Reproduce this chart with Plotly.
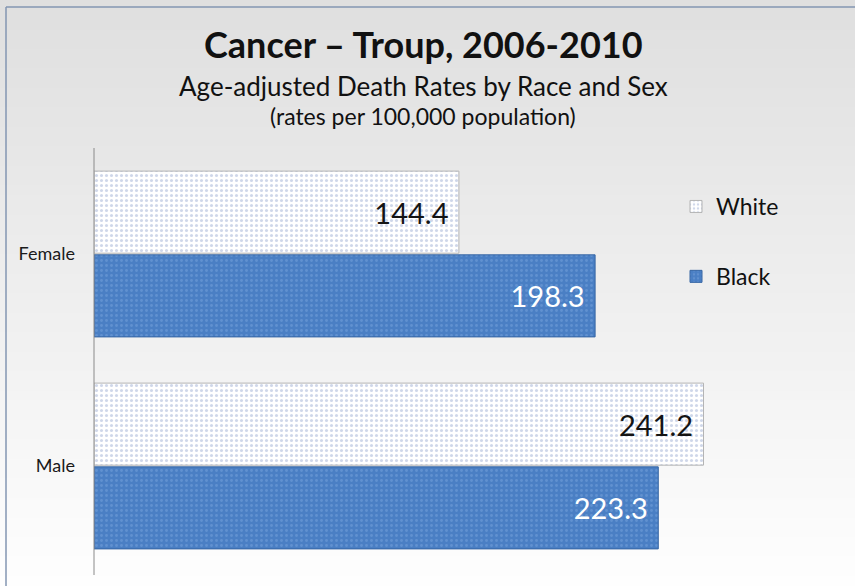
import plotly.graph_objects as go

categories = ["Female", "Male"]
white_values = [144.4, 241.2]
black_values = [198.3, 223.3]
series_names = ["White", "Black"]

W, H = 855, 586
L, R, T, B = 94, 850, 148, 572  # plot area in pixels
XMAX = (R - L) / 2.527

def px(xp):
    return (xp - L) / (R - L)

def py(yp):
    return (B - yp) / (B - T)

fig = go.Figure()

fig.add_trace(go.Bar(
    y=categories, x=white_values, name=series_names[0], orientation="h",
    legendgroup="w",
    marker=dict(color="#ffffff", line=dict(color="#b4b4b4", width=1),
                pattern=dict(shape=".", fgcolor="#9fb0d4", bgcolor="#ffffff", size=5, solidity=0.3)),
    texttemplate="%{x:.1f}\u00a0", textposition="inside", insidetextanchor="end",
    textangle=0, textfont=dict(family="Lato", size=29, color="#141414"),
    hoverinfo="skip",
))
fig.add_trace(go.Bar(
    y=categories, x=black_values, name=series_names[1], orientation="h",
    legendgroup="b",
    marker=dict(color="#4a7fc4", line=dict(color="#3565a3", width=1),
                pattern=dict(shape=".", fgcolor="#78a3dc", bgcolor="#4a7fc4", size=5, solidity=0.25)),
    texttemplate="%{x:.1f}\u00a0", textposition="inside", insidetextanchor="end",
    textangle=0, textfont=dict(family="Lato", size=29, color="#ffffff"),
    hoverinfo="skip",
))

# background gradient strips
shapes = []
n = 60
top_c = (0xdf, 0xdf, 0xdf)
bot_c = (0xfe, 0xfe, 0xfe)
for i in range(n):
    y0 = i * H / n
    y1 = (i + 1) * H / n + 1
    t = i / (n - 1)
    c = tuple(int(round(top_c[k] + (bot_c[k] - top_c[k]) * t)) for k in range(3))
    shapes.append(dict(type="rect", xref="paper", yref="paper", layer="below",
                       x0=px(-5), x1=px(W + 5), y0=py(y0), y1=py(y1),
                       fillcolor="rgb(%d,%d,%d)" % c, line=dict(width=0)))
# frame lines
shapes.append(dict(type="line", xref="paper", yref="paper", layer="below",
                   x0=px(6), x1=px(6), y0=py(7), y1=py(H + 5),
                   line=dict(color="#8396b2", width=1.5)))
shapes.append(dict(type="line", xref="paper", yref="paper", layer="below",
                   x0=px(6), x1=px(W + 5), y0=py(7), y1=py(7),
                   line=dict(color="#8396b2", width=1.5)))
# axis line
shapes.append(dict(type="line", xref="paper", yref="paper", layer="above",
                   x0=0, x1=0, y0=py(575), y1=py(148),
                   line=dict(color="#8a8a8a", width=1)))

annotations = [
    dict(text="<b>Cancer – Troup, 2006-2010</b>", x=px(423), y=py(44), xref="paper", yref="paper",
         showarrow=False, xanchor="center", yanchor="middle",
         font=dict(family="Lato", size=36, color="#111111")),
    dict(text="Age-adjusted Death Rates by Race and Sex", x=px(423), y=py(86), xref="paper", yref="paper",
         showarrow=False, xanchor="center", yanchor="middle",
         font=dict(family="Lato", size=26, color="#111111")),
    dict(text="(rates per 100,000 population)", x=px(423), y=py(116), xref="paper", yref="paper",
         showarrow=False, xanchor="center", yanchor="middle",
         font=dict(family="Lato", size=23, color="#111111")),
]

fig.update_layout(
    width=W, height=H,
    margin=dict(l=L, r=W - R, t=T, b=H - B, pad=0, autoexpand=False),
    paper_bgcolor="#f4f4f4",
    plot_bgcolor="rgba(0,0,0,0)",
    barmode="group", bargap=0.21, bargroupgap=0.02,
    showlegend=True,
    legend=dict(x=px(676), y=py(185),
                xanchor="left", yanchor="top", traceorder="grouped", tracegroupgap=37,
                font=dict(family="Lato", size=23, color="#111111"),
                bgcolor="rgba(0,0,0,0)", itemwidth=30),
    xaxis=dict(range=[0, XMAX], visible=False, showgrid=False, zeroline=False, fixedrange=True),
    yaxis=dict(autorange="reversed", showgrid=False, zeroline=False, showline=False,
               ticks="", ticklabelstandoff=18,
               tickfont=dict(family="Lato", size=18, color="#1a1a1a")),
    shapes=shapes,
    annotations=annotations,
)

fig.write_html("out.html")
